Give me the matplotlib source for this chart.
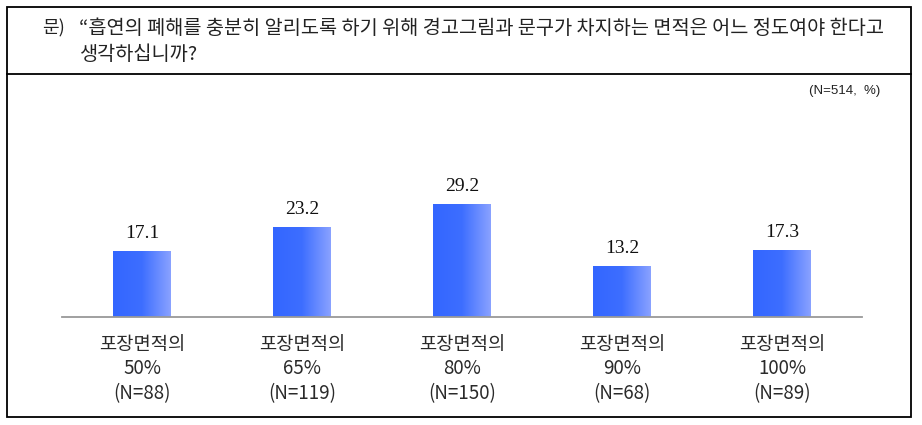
import matplotlib
matplotlib.use("Agg")
import matplotlib.pyplot as plt
import numpy as np
from matplotlib.patches import Rectangle
from matplotlib.lines import Line2D
from matplotlib.colors import LinearSegmentedColormap

plt.rcParams['font.family'] = ['Noto Sans CJK KR', 'DejaVu Sans']

# data
areas = ['50%', '65%', '80%', '90%', '100%']
counts = [88, 119, 150, 68, 89]
values = [17.1, 23.2, 29.2, 13.2, 17.3]
labels = ['포장면적의\n%s\n(N=%d)' % (a, n) for a, n in zip(areas, counts)]
question_1 = '“흡연의 폐해를 충분히 알리도록 하기 위해 경고그림과 문구가 차지하는 면적은 어느 정도여야 한다고'
question_2 = '생각하십니까?'

W, H = 922, 425
fig = plt.figure(figsize=(W / 100, H / 100), dpi=100)

def fx(px):
    return px / W

def fy(py):
    return 1 - py / H

# frame and separator
fig.patches.append(Rectangle((fx(7), fy(417)), fx(911) - fx(7), fy(7) - fy(417),
                             transform=fig.transFigure, fill=False, lw=1.3, ec='black'))
fig.lines.append(Line2D([fx(7), fx(911)], [fy(74), fy(74)], transform=fig.transFigure,
                        color='black', lw=1.3))

fig.text(fx(42), fy(28), '문)', fontsize=13, va='center', color='#222222')
fig.text(fx(79), fy(28), question_1, fontsize=14.2, va='center', color='#222222')
fig.text(fx(80), fy(54), question_2, fontsize=14.2, va='center', color='#222222')
fig.text(fx(880), fy(91), '(N=514,  %)', fontsize=9.5, va='center', ha='right',
         color='#222222', family=['Liberation Sans', 'DejaVu Sans'])

# axes: baseline at y=317px, from x=62 to 862
ax_top = 100
ax = fig.add_axes([fx(62), fy(317), fx(862) - fx(62), fy(ax_top) - fy(317)])
x = np.arange(len(values))
ax.set_xlim(-0.5, len(values) - 0.5)
ax.set_ylim(0, (317 - ax_top) / 3.84)

cmap = LinearSegmentedColormap.from_list('g', ['#3366ff', '#3d6eff', '#8aa2ff'])
grad = np.linspace(0, 1, 256).reshape(1, -1)
bars = ax.bar(x, values, width=0.36, color='none', edgecolor='none')
for b in bars:
    ax.imshow(grad, cmap=cmap, aspect='auto', zorder=2,
              extent=[b.get_x(), b.get_x() + b.get_width(), 0, b.get_height()])
for xi, v in zip(x, values):
    ax.annotate('%.1f' % v, (xi, v), xytext=(0, 7), textcoords='offset points',
                ha='center', va='bottom', fontsize=14, color='#111111',
                family=['Liberation Serif', 'DejaVu Serif'])

ax.set_xticks(x)
ax.set_xticklabels(labels, fontsize=13.5, color='#2a2a2a', linespacing=1.22)
ax.tick_params(axis='x', length=0, pad=12)
ax.set_yticks([])
for s in ['top', 'left', 'right']:
    ax.spines[s].set_visible(False)
ax.spines['bottom'].set_color('#999999')
ax.spines['bottom'].set_linewidth(1.3)
ax.set_xlim(-0.5, len(values) - 0.5)
ax.patch.set_visible(False)

fig.savefig('out.png', dpi=100)
